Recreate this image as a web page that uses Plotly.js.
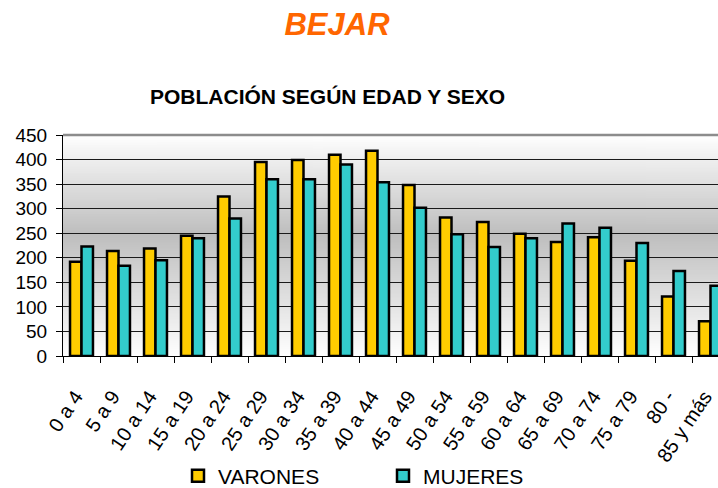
<!DOCTYPE html>
<html>
<head>
<meta charset="utf-8">
<script src="https://cdn.plot.ly/plotly-3.0.1.min.js"></script>
<style>
  html, body { margin: 0; padding: 0; overflow: hidden; background: #fff; }
  #chart { width: 740px; height: 488px; }
</style>
</head>
<body>
<div id="chart"></div>
<script>
const categories = ["0 a 4", "5 a 9", "10 a 14", "15 a 19", "20 a 24", "25 a 29", "30 a 34", "35 a 39", "40 a 44", "45 a 49", "50 a 54", "55 a 59", "60 a 64", "65 a 69", "70 a 74", "75 a 79", "80 -", "85 y más"];
const varones = [192, 214, 219, 245, 325, 395, 399, 410, 418, 348, 282, 273, 249, 232, 242, 194, 121, 71];
const mujeres = [223, 184, 195, 240, 280, 360, 360, 390, 354, 302, 248, 222, 240, 270, 261, 230, 173, 143];
const yTicks = [0, 50, 100, 150, 200, 250, 300, 350, 400, 450];

// gradient background image for the plot area
const cv = document.createElement('canvas');
cv.width = 4; cv.height = 256;
const ctx = cv.getContext('2d');
const g = ctx.createLinearGradient(0, 0, 0, 256);
g.addColorStop(0, '#ffffff');
g.addColorStop(0.45, '#bebebe');
g.addColorStop(1, '#ffffff');
ctx.fillStyle = g;
ctx.fillRect(0, 0, 4, 256);
const bgUrl = cv.toDataURL('image/png');

const FONT = 'Arial, "Liberation Sans", sans-serif';

const traces = [
  {
    type: 'bar', name: 'VARONES', x: categories, y: varones,
    marker: { color: '#FFCC00', line: { color: '#000000', width: 2.5 } }
  },
  {
    type: 'bar', name: 'MUJERES', x: categories, y: mujeres,
    marker: { color: '#33CCCC', line: { color: '#000000', width: 2.5 } }
  }
];

const layout = {
  width: 740, height: 488,
  margin: { l: 63, r: 11, t: 135, b: 132, autoexpand: false },
  paper_bgcolor: '#ffffff',
  plot_bgcolor: 'rgba(0,0,0,0)',
  font: { family: FONT, color: '#000', size: 19 },
  barmode: 'group',
  bargap: 0.38,
  bargroupgap: 0,
  title: {
    text: '<b><i>BEJAR</i></b>',
    font: { family: FONT, size: 31, color: '#FF6600' },
    x: 337 / 740, xanchor: 'center', xref: 'container',
    y: 1 - 24 / 488, yanchor: 'middle', yref: 'container'
  },
  annotations: [{
    text: '<b>POBLACIÓN SEGÚN EDAD Y SEXO</b>',
    xref: 'paper', yref: 'paper',
    x: (327 - 63) / 666, y: (356 - 96) / 221,
    xanchor: 'center', yanchor: 'middle', showarrow: false,
    font: { family: FONT, size: 21, color: '#000' }
  }],
  xaxis: {
    type: 'category',
    tickangle: -56,
    ticks: 'outside', ticklen: 6, tickcolor: '#000', tickwidth: 1,
    tickson: 'boundaries',
    ticklabelstandoff: 20,
    ticklabelshift: -6,
    showline: true, linecolor: '#000', linewidth: 1,
    showgrid: false,
    tickfont: { family: FONT, size: 20, color: '#000' },
    automargin: false
  },
  yaxis: {
    range: [0, 450],
    tickvals: yTicks,
    ticktext: yTicks.map(String),
    ticks: 'outside', ticklen: 6, tickcolor: '#000', tickwidth: 1,
    ticklabelstandoff: 5,
    showline: true, linecolor: '#000', linewidth: 1,
    showgrid: true, gridcolor: '#1a1a1a', gridwidth: 1,
    zeroline: false,
    tickfont: { family: FONT, size: 19, color: '#000' },
    automargin: false
  },
  images: [{
    source: bgUrl, xref: 'paper', yref: 'paper',
    x: 0, y: 1, sizex: 1, sizey: 1, sizing: 'stretch',
    xanchor: 'left', yanchor: 'top', layer: 'below'
  }],
  shapes: [{
    type: 'line', xref: 'paper', yref: 'paper',
    x0: 0, x1: 1, y0: 1, y1: 1,
    line: { color: '#8c8c8c', width: 2.5 }
  }],
  showlegend: true,
  legend: {
    orientation: 'h',
    x: (178 - 63) / 666, xanchor: 'left',
    y: (356 - 476) / 221, yanchor: 'middle',
    font: { family: FONT, size: 21, color: '#000' },
    entrywidth: 160, entrywidthmode: 'pixels',
    itemwidth: 30,
    bgcolor: 'rgba(0,0,0,0)'
  }
};

Plotly.newPlot('chart', traces, layout, { displayModeBar: false, staticPlot: true });
</script>
</body>
</html>
